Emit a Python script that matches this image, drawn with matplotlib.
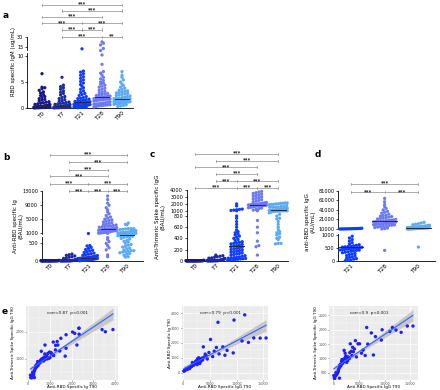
import numpy as np
import matplotlib
matplotlib.use('Agg')
import matplotlib.pyplot as plt
from matplotlib.transforms import blended_transform_factory as blend

# ------------------------------------------------------------------ data
times5 = ['T0', 'T7', 'T21', 'T28', 'T90']
times3 = ['T21', 'T28', 'T90']

# panel a : RBD specific IgM (ug/mL)
igm_T0 = [0.02, 0.03, 0.05, 0.05, 0.06, 0.08, 0.08, 0.1, 0.1, 0.11, 0.12, 0.13, 0.15, 0.15, 0.16,
          0.18, 0.2, 0.2, 0.21, 0.22, 0.24, 0.25, 0.26, 0.28, 0.3, 0.3, 0.32, 0.35, 0.38, 0.4, 0.42,
          0.45, 0.5, 0.55, 0.6, 0.65, 0.7, 0.8, 0.9, 1.0, 1.1, 1.2, 1.35, 1.5, 1.65, 1.8, 2.0, 2.2,
          2.4, 2.6, 2.9, 3.1, 3.4, 3.7, 3.9, 4.0, 6.6]
igm_T7 = [0.02, 0.04, 0.05, 0.06, 0.08, 0.09, 0.1, 0.1, 0.12, 0.13, 0.14, 0.15, 0.16, 0.18, 0.2,
          0.2, 0.22, 0.24, 0.25, 0.27, 0.3, 0.3, 0.32, 0.35, 0.38, 0.4, 0.43, 0.46, 0.5, 0.55, 0.6,
          0.65, 0.7, 0.78, 0.85, 0.95, 1.05, 1.15, 1.3, 1.45, 1.6, 1.8, 2.0, 2.2, 2.5, 2.8, 3.0,
          3.3, 3.6, 3.9, 4.1, 4.4, 5.9]
igm_T21 = [0.05, 0.1, 0.12, 0.15, 0.2, 0.25, 0.3, 0.3, 0.35, 0.4, 0.45, 0.5, 0.5, 0.55, 0.6, 0.65,
           0.7, 0.75, 0.8, 0.85, 0.9, 0.95, 1.0, 1.0, 1.05, 1.1, 1.15, 1.2, 1.25, 1.3, 1.4, 1.5,
           1.6, 1.7, 1.8, 1.9, 2.0, 2.2, 2.4, 2.6, 2.8, 3.0, 3.3, 3.6, 3.9, 4.2, 4.5, 4.8, 5.1,
           5.4, 5.7, 6.0, 6.3, 6.6, 6.9, 7.1, 13.0]
igm_T28 = [0.2, 0.3, 0.4, 0.45, 0.5, 0.55, 0.6, 0.65, 0.7, 0.75, 0.8, 0.85, 0.9, 0.95, 1.0, 1.1,
           1.2, 1.3, 1.4, 1.5, 1.55, 1.6, 1.65, 1.7, 1.75, 1.8, 1.85, 1.9, 1.95, 2.0, 2.0, 2.05,
           2.1, 2.15, 2.2, 2.25, 2.3, 2.4, 2.5, 2.6, 2.7, 2.8, 2.9, 3.0, 3.2, 3.4, 3.6, 3.8, 4.0,
           4.2, 4.4, 4.6, 4.8, 5.0, 5.3, 5.6, 5.9, 6.3, 6.7, 7.0, 8.4, 10.2, 11.6, 13.5, 18.5,
           21.0, 23.0]
igm_T90 = [0.3, 0.4, 0.5, 0.6, 0.7, 0.8, 0.85, 0.9, 0.95, 1.0, 1.05, 1.1, 1.15, 1.2, 1.25, 1.3,
           1.35, 1.4, 1.45, 1.5, 1.5, 1.55, 1.6, 1.6, 1.65, 1.7, 1.75, 1.8, 1.85, 1.9, 2.0, 2.1,
           2.2, 2.3, 2.4, 2.5, 2.6, 2.7, 2.8, 2.9, 3.0, 3.1, 3.2, 3.3, 3.4, 3.6, 3.8, 4.0, 4.3,
           4.6, 5.0, 5.4, 5.9, 6.3, 7.0]

# panel b : Anti-RBD specific Ig (BAU/mL)
ig_T0 = [0, 0, 0, 1, 0, 0, 2, 0, 0, 1, 0, 3, 0, 0, 1, 0, 0, 2, 0, 0, 1, 0, 4, 0, 0, 1, 0, 0, 2,
         0, 5, 0, 0, 1, 0, 0, 3, 0, 0, 2, 0, 1, 0, 0, 6, 0, 0, 1, 0, 2, 0, 0, 1, 0, 8, 0]
ig_T7 = [0, 0, 1, 0, 2, 0, 3, 1, 0, 4, 2, 0, 5, 1, 0, 6, 3, 0, 8, 2, 1, 10, 0, 12, 4, 0, 15, 2,
         18, 1, 20, 5, 25, 0, 30, 3, 35, 40, 2, 45, 1, 55, 0, 65, 80, 95, 110, 130, 150, 165, 185]
ig_T21 = [0, 2, 5, 8, 10, 12, 15, 18, 20, 22, 25, 28, 30, 32, 35, 38, 40, 42, 45, 48, 50, 55, 58,
          60, 62, 65, 68, 70, 75, 80, 85, 90, 95, 100, 110, 120, 130, 140, 150, 165, 180, 195, 210,
          230, 250, 270, 290, 310, 340, 370, 410, 420, 950]
ig_T28 = [110, 160, 300, 360, 420, 480, 530, 590, 640, 1000, 1050, 1100, 1150, 1200, 1250, 1300,
          1350, 1400, 1500, 1600, 1700, 1750, 1800, 1850, 1900, 1950, 2000, 2050, 2100, 2150, 2200,
          2250, 2300, 2400, 2500, 2600, 2700, 2800, 2900, 3000, 3100, 3200, 3350, 3500, 3650, 3800,
          4000, 4200, 4400, 4600, 4800, 5000, 5300, 5600, 6000, 6500, 7000, 7600, 8200, 8900, 9500,
          10500, 11500]

# T90 paired measurements (used in b, c and e)
ig_T90 = [3900, 3550, 3400, 2340, 2330, 2340, 2140, 2040, 2240, 1740, 1740, 1330, 1170, 1450, 1360,
          1150, 770, 1700, 1250, 1050, 980, 900, 1000, 950, 880, 820, 780, 720, 650, 700, 600, 560,
          520, 480, 430, 450, 400, 380, 350, 330, 300, 280, 260, 240, 220, 250, 200, 180, 150, 110,
          280, 100, 850, 920, 1080, 760, 620, 540, 680, 1500, 1260]
igg_T90 = [11500, 9500, 6500, 13200, 14400, 15500, 11000, 12200, 5100, 7400, 3750, 9350, 7800, 5800,
           4800, 4300, 3300, 6200, 4100, 3900, 3500, 3200, 2900, 2700, 3000, 2500, 2600, 2400, 2200,
           2800, 2100, 1900, 2000, 1800, 1600, 1500, 1400, 1300, 1250, 1100, 1000, 950, 900, 800,
           700, 600, 500, 400, 300, 200, 1200, 100, 3600, 4500, 5500, 2300, 3100, 2600, 1700, 8200,
           6700]
tri_T90 = [2080, 2000, 2080, 1910, 2130, 2130, 1940, 1990, 1510, 1890, 1390, 1640, 1120, 1290, 1510,
           1620, 1510, 1100, 1330, 1230, 1250, 1200, 1050, 1020, 1000, 1080, 980, 1060, 1000, 920,
           1280, 950, 880, 830, 900, 750, 800, 700, 760, 650, 600, 560, 520, 480, 460, 420, 500, 380,
           300, 310, 310, 400, 1100, 1050, 1180, 1180, 1000, 860, 960, 1760, 1500]

# panel c : Anti-Trimeric Spike specific IgG (BAU/mL)
tri_T0 = [0, 0, 1, 0, 0, 2, 0, 0, 1, 0, 0, 3, 0, 0, 1, 0, 0, 0, 2, 0, 1, 0, 0, 4, 0, 0, 1, 0, 0,
          2, 0, 0, 1, 0, 0, 5, 0, 0, 1, 0, 2, 0, 0, 1, 0, 0, 3, 0, 1, 0, 0, 2, 0, 6]
tri_T7 = [0, 0, 1, 0, 2, 0, 1, 3, 0, 2, 0, 4, 1, 0, 5, 2, 0, 6, 1, 0, 8, 3, 0, 10, 2, 12, 0, 15,
          1, 18, 4, 20, 0, 25, 2, 30, 35, 40, 45, 50, 60, 70, 80, 90, 100]
tri_T21 = [5, 10, 15, 20, 25, 30, 35, 40, 45, 50, 55, 60, 70, 80, 90, 100, 110, 120, 130, 140,
           150, 160, 170, 180, 190, 200, 210, 220, 230, 240, 250, 260, 270, 280, 290, 300, 310,
           320, 330, 340, 360, 380, 400, 420, 440, 460, 480, 500, 520, 550, 600, 650, 700, 760,
           800, 1000, 1050, 1100, 1150, 1200, 1250, 1700, 2000]
tri_T28 = [100, 250, 270, 350, 500, 600, 720, 1000, 1100, 1200, 1300, 1400, 1450, 1500, 1550, 1600,
           1650, 1700, 1700, 1750, 1750, 1800, 1800, 1850, 1850, 1900, 1900, 1950, 1950, 2000, 2000,
           2050, 2100, 2150, 2200, 2300, 2400, 2500, 2600, 2700, 2800, 2900, 3000, 3100, 3200,
           3300, 3400, 3500, 3600, 3700, 3800]

# panel d : anti-RBD specific IgG (AU/mL)
rbd_T21 = [0, 20, 30, 60, 80, 100, 130, 150, 180, 200, 240, 260, 280, 310, 330, 340, 370, 380, 400,
           410, 420, 430, 440, 450, 460, 470, 480, 490, 500, 510, 520, 530, 540, 550, 560, 580, 600,
           620, 650, 700, 760, 820, 880, 950, 1100, 1150, 1200, 1250, 1300, 1350, 1400, 1500, 1600,
           1700, 1800, 1900, 2000, 2200, 2400, 2600]
rbd_T28 = [400, 1200, 2000, 3000, 4000, 5000, 6000, 7000, 8000, 8500, 9000, 9500, 10000, 10500,
           11000, 11500, 12000, 12500, 13000, 13500, 14000, 14500, 15000, 15500, 16000, 16500, 17000,
           17500, 18000, 18500, 19000, 19500, 20000, 21000, 22000, 23000, 24000, 25000, 26000,
           27000, 28000, 29000, 30000, 32000, 34000, 36000, 38000, 41000, 44000, 48000, 52000,
           58000, 65000]
rbd_T90 = [530, 1100, 1200, 1300, 1400, 1500, 1600, 1700, 1800, 1900, 2000, 2100, 2200, 2300, 2400,
           2500, 2600, 2800, 3000, 3200, 3300, 3400, 3600, 3800, 4000, 4200, 4500, 4800, 5000, 5300,
           5600, 6000, 6500, 7000, 7500, 8000, 9000, 10000, 11000, 12000, 13500, 15000]

corr_texts = ['corr=0.87  p<0.001', 'corr=0.79  p<0.001', 'corr=0.9  p<0.001']

col5 = ['#16168a', '#1c2aa3', '#0f3cff', '#6c7af2', '#5aaaf4']
col3 = ['#0f3cff', '#6c7af2', '#5aaaf4']

# ------------------------------------------------------------------ helpers
W, H = 440, 390
fig = plt.figure(figsize=(W / 100, H / 100), dpi=100)


def axes_px(l, t, r, b):
    return fig.add_axes([l / W, 1 - b / H, (r - l) / W, (b - t) / H])


def make_scale(vk, pk):
    vk = np.asarray(vk, float)
    pk = np.asarray(pk, float)
    s0 = (pk[1] - pk[0]) / (vk[1] - vk[0])
    s1 = (pk[-1] - pk[-2]) / (vk[-1] - vk[-2])

    def fwd(v):
        v = np.asarray(v, float)
        out = np.interp(v, vk, pk)
        out = np.where(v < vk[0], pk[0] + (v - vk[0]) * s0, out)
        out = np.where(v > vk[-1], pk[-1] + (v - vk[-1]) * s1, out)
        return out

    def inv(p):
        p = np.asarray(p, float)
        out = np.interp(p, pk, vk)
        out = np.where(p < pk[0], vk[0] + (p - pk[0]) / s0, out)
        out = np.where(p > pk[-1], vk[-1] + (p - pk[-1]) / s1, out)
        return out
    return fwd, inv


def swarm(ax, i, vals, color, d=2.8, maxw=9.0, medw=0.36):
    v = np.sort(np.asarray(vals, float))
    pts = ax.transData.transform(np.column_stack([np.full(len(v), float(i)), v]))
    ypix = pts[:, 1]
    xpu = ax.transData.transform((1, 0))[0] - ax.transData.transform((0, 0))[0]
    bins = np.floor(ypix / d).astype(int)
    xo = np.zeros(len(v))
    for b in np.unique(bins):
        idx = np.where(bins == b)[0]
        n = len(idx)
        if n > 1:
            sp = min(d, 2 * maxw / (n - 1))
            xo[idx] = (np.arange(n) - (n - 1) / 2) * sp
    ax.scatter(i + xo / xpu, v, s=5.5, color=color, edgecolors='none', clip_on=False, zorder=3)
    med = np.median(v)
    ax.plot([i - medw, i + medw], [med, med], color='#2a2a3a', lw=0.7, zorder=4, clip_on=False)


def dot_panel(spec, groups, cats, cols):
    ax = axes_px(spec['left'], spec['top'], spec['right'], spec['bottom'])
    fwd, inv = make_scale(spec['vk'], spec['pk'])
    ax.set_yscale('function', functions=(fwd, inv))
    ax.set_ylim(spec['vk'][0], spec['vk'][-1])
    ax.set_xlim(*spec['xlim'])
    for s in ['top', 'right', 'left']:
        ax.spines[s].set_visible(False)
    ax.spines['bottom'].set_linewidth(0.6)
    tr = blend(ax.transAxes, ax.transData)
    for v0, v1 in spec['segs']:
        ax.plot([0, 0], [v0, v1], transform=tr, color='black', lw=0.6, clip_on=False)
    ax.set_yticks(spec['ticks'], spec['ticklabels'])
    ax.yaxis.set_minor_locator(matplotlib.ticker.NullLocator())
    ax.tick_params(axis='y', length=1.8, width=0.5, labelsize=3.6, pad=0.8)
    ax.set_xticks(range(len(cats)), cats)
    ax.tick_params(axis='x', length=0, labelsize=4.2, pad=2)
    for lab in ax.get_xticklabels():
        lab.set_rotation(45)
        lab.set_ha('right')
        lab.set_rotation_mode('anchor')
    for i, (g, c) in enumerate(zip(groups, cols)):
        swarm(ax, i, g, c, maxw=spec['maxw'])
    return ax


def brackets(ax, rows):
    tr = blend(ax.transData, fig.transFigure)
    for ypx, segs in rows:
        yf = 1 - ypx / H
        pts = sorted(set([s[0] for s in segs] + [s[1] for s in segs]))
        ax.plot([pts[0], pts[-1]], [yf, yf], transform=tr, color='#8c8c8c', lw=0.5, clip_on=False)
        for p in pts:
            ax.plot([p, p], [yf - 1.1 / H, yf + 1.1 / H], transform=tr, color='#8c8c8c', lw=0.5,
                    clip_on=False)
        for a, b, lab in segs:
            ax.text((a + b) / 2, yf - 0.6 / H, lab, transform=tr, ha='center', va='baseline',
                    fontsize=3.8, fontweight='bold', color='#222222', clip_on=False)


def corr_panel(box, x, y, xlim, ylim, xt, yt, xlab, ylab, txt):
    ax = axes_px(*box)
    ax.set_facecolor('#EBEBEB')
    for s in ax.spines.values():
        s.set_visible(False)
    ax.set_xlim(xlim)
    ax.set_ylim(ylim)
    ax.set_xticks(xt)
    ax.set_yticks(yt)
    xm = [(xt[k] + xt[k + 1]) / 2 for k in range(len(xt) - 1)]
    ym = [(yt[k] + yt[k + 1]) / 2 for k in range(len(yt) - 1)]
    ym = [yt[0] - (yt[1] - yt[0]) / 2] + ym + [yt[-1] + (yt[1] - yt[0]) / 2]
    ax.set_xticks(xm, minor=True)
    ax.set_yticks(ym, minor=True)
    ax.grid(True, which='major', color='white', lw=0.5)
    ax.grid(True, which='minor', color='white', lw=0.25)
    ax.set_axisbelow(True)
    ax.tick_params(which='major', length=1.0, width=0.4, color='#333333', labelsize=2.4, pad=0.6,
                   labelcolor='#4d4d4d')
    ax.tick_params(which='minor', length=0)
    x = np.asarray(x, float)
    y = np.asarray(y, float)
    b1, b0 = np.polyfit(x, y, 1)
    xs = np.linspace(x.min(), x.max(), 100)
    yh = b0 + b1 * xs
    n = len(x)
    res = y - (b0 + b1 * x)
    sd = np.sqrt(np.sum(res ** 2) / (n - 2))
    se = sd * np.sqrt(1 / n + (xs - x.mean()) ** 2 / np.sum((x - x.mean()) ** 2))
    ax.fill_between(xs, yh - 1.99 * se, yh + 1.99 * se, color='#9a9a9a', alpha=0.45, lw=0, zorder=2)
    ax.scatter(x, y, s=6, color='#1f1fff', edgecolors='none', zorder=3)
    ax.plot(xs, yh, color='#3366FF', lw=0.8, zorder=4)
    ax.text(0.45, 0.9, txt, transform=ax.transAxes, ha='center', va='center', fontsize=3,
            color='#1a1a1a')
    ax.set_xlabel(xlab, fontsize=3.0)
    ax.set_ylabel(ylab, fontsize=3.0)
    ax.xaxis.set_label_coords(0.5, -0.095)
    ax.xaxis.label.set_va('center')
    ax.yaxis.set_label_coords(-0.14, 0.5)
    ax.yaxis.label.set_va('center')
    return ax


# ------------------------------------------------------------------ panel a
spec_a = dict(left=27, right=133, top=37, bottom=108,
              vk=[0, 10.5, 12, 30], pk=[0, 54.6, 58.5, 71],
              segs=[(0, 10.5), (12, 30)], ticks=[0, 5, 10, 15, 30],
              ticklabels=['0', '5', '10', '15', '30'], xlim=(-0.75, 4.55), maxw=8)
ax_a = dot_panel(spec_a, [igm_T0, igm_T7, igm_T21, igm_T28, igm_T90], times5, col5)
brackets(ax_a, [(36.7, [(1, 3, '***'), (3, 4, '**')]),
                (29.5, [(1, 2, '***'), (2, 3, '***')]),
                (23.2, [(0, 2, '***'), (2, 4, '***')]),
                (17.0, [(0, 3, '***')]),
                (10.5, [(1, 4, '***')]),
                (5.0, [(0, 4, '***')])])
fig.text(13 / W, 1 - 62 / H, 'RBD specific IgM (ug/mL)', rotation=90, ha='center', va='center',
         fontsize=4.0)

# ------------------------------------------------------------------ panel b
spec_b = dict(left=41.7, right=143, top=190.7, bottom=260.7,
              vk=[0, 650, 900, 13000], pk=[0, 23.4, 27.0, 70.0],
              segs=[(0, 650), (900, 13000)], ticks=[0, 500, 1000, 5000, 9000, 13000],
              ticklabels=['0', '500', '1000', '5000', '9000', '13000'],
              xlim=(-0.43, 4.84), maxw=9)
ax_b = dot_panel(spec_b, [ig_T0, ig_T7, ig_T21, ig_T28, ig_T90], times5, col5)
brackets(ax_b, [(191.3, [(1, 2, '***'), (2, 3, '***'), (3, 4, '***')]),
                (183.7, [(0, 2, '***'), (2, 4, '***')]),
                (176.3, [(0, 3, '***')]),
                (169.7, [(1, 3, '***')]),
                (162.3, [(1, 4, '***')]),
                (154.7, [(0, 4, '***')])])
fig.text(18 / W, 1 - 226 / H, 'Anti-RBD specific Ig\n(BAU/mL)', rotation=90, ha='center',
         va='center', fontsize=4.0, multialignment='center', linespacing=1.1)

# ------------------------------------------------------------------ panel c
spec_c = dict(left=186.7, right=288, top=190, bottom=260.7,
              vk=[0, 850, 900, 4000], pk=[0, 47.5, 49.2, 70.7],
              segs=[(0, 850), (900, 4000)],
              ticks=[0, 200, 400, 600, 800, 1000, 2000, 3000, 4000],
              ticklabels=['0', '200', '400', '600', '800', '1000', '2000', '3000', '4000'],
              xlim=(-0.4, 4.47), maxw=9)
ax_c = dot_panel(spec_c, [tri_T0, tri_T7, tri_T21, tri_T28, tri_T90], times5, col5)
brackets(ax_c, [(188.0, [(0, 2, '***'), (2, 3, '***'), (3, 4, '***')]),
                (181.3, [(1, 2, '***'), (2, 4, '***')]),
                (174.0, [(1, 3, '***')]),
                (167.3, [(0, 3, '***')]),
                (160.7, [(1, 4, '***')]),
                (154.0, [(0, 4, '***')])])
fig.text(160 / W, 1 - 217 / H, 'Anti-Trimeric Spike specific IgG\n(BAU/mL)', rotation=90,
         ha='center', va='center', fontsize=4.0, multialignment='center', linespacing=1.1)

# ------------------------------------------------------------------ panel d
spec_d = dict(left=338.3, right=435, top=190.7, bottom=260.7,
              vk=[0, 1050, 1051, 81000], pk=[0, 27.0, 31.7, 70.0],
              segs=[(0, 1050), (1051, 81000)],
              ticks=[0, 500, 1000, 1700, 21000, 41000, 61000, 81000],
              ticklabels=['0', '500', '1000', '10000', '21000', '41000', '61000', '81000'],
              xlim=(-0.37, 2.49), maxw=11)
ax_d = dot_panel(spec_d, [rbd_T21, rbd_T28, rbd_T90], times3, col3)
brackets(ax_d, [(192.3, [(0, 1, '***'), (1, 2, '***')]),
                (184.0, [(0, 2, '***')])])
fig.text(310 / W, 1 - 222 / H, 'anti-RBD specific IgG\n(AU/mL)', rotation=90, ha='center',
         va='center', fontsize=4.0, multialignment='center', linespacing=1.1)

# ------------------------------------------------------------------ panel e
corr_panel((26, 306, 118.3, 380), ig_T90, tri_T90, (-106, 4147), (220, 2950),
           [0, 1000, 2000, 3000, 4000], [1000, 2000],
           'Anti-RBD Specific Ig T90', 'Anti-Trimeric Spike Specific IgG T90', corr_texts[0])
corr_panel((181.7, 306, 268.3, 380), igg_T90, ig_T90, (-300, 15920), (-182, 4303),
           [0, 5000, 10000, 15000], [0, 1000, 2000, 3000, 4000],
           'Anti-RBD Specific IgG T90', 'Anti-RBD Specific Ig T90', corr_texts[1])
corr_panel((329, 306, 418.3, 380), igg_T90, tri_T90, (-840, 16540), (245, 2830),
           [0, 5000, 10000, 15000], [500, 1000, 1500, 2000, 2500],
           'Anti-RBD Specific IgG T90', 'Anti-Trimeric Spike Specific IgG T90', corr_texts[2])

# ------------------------------------------------------------------ panel letters
for lab, (px, py) in {'a': (3, 15), 'b': (3, 157), 'c': (150, 155), 'd': (315, 155),
                      'e': (2, 312)}.items():
    fig.text(px / W, 1 - py / H, lab, fontsize=6.5, fontweight='bold', ha='left', va='center')

fig.savefig('out.png', dpi=100)
